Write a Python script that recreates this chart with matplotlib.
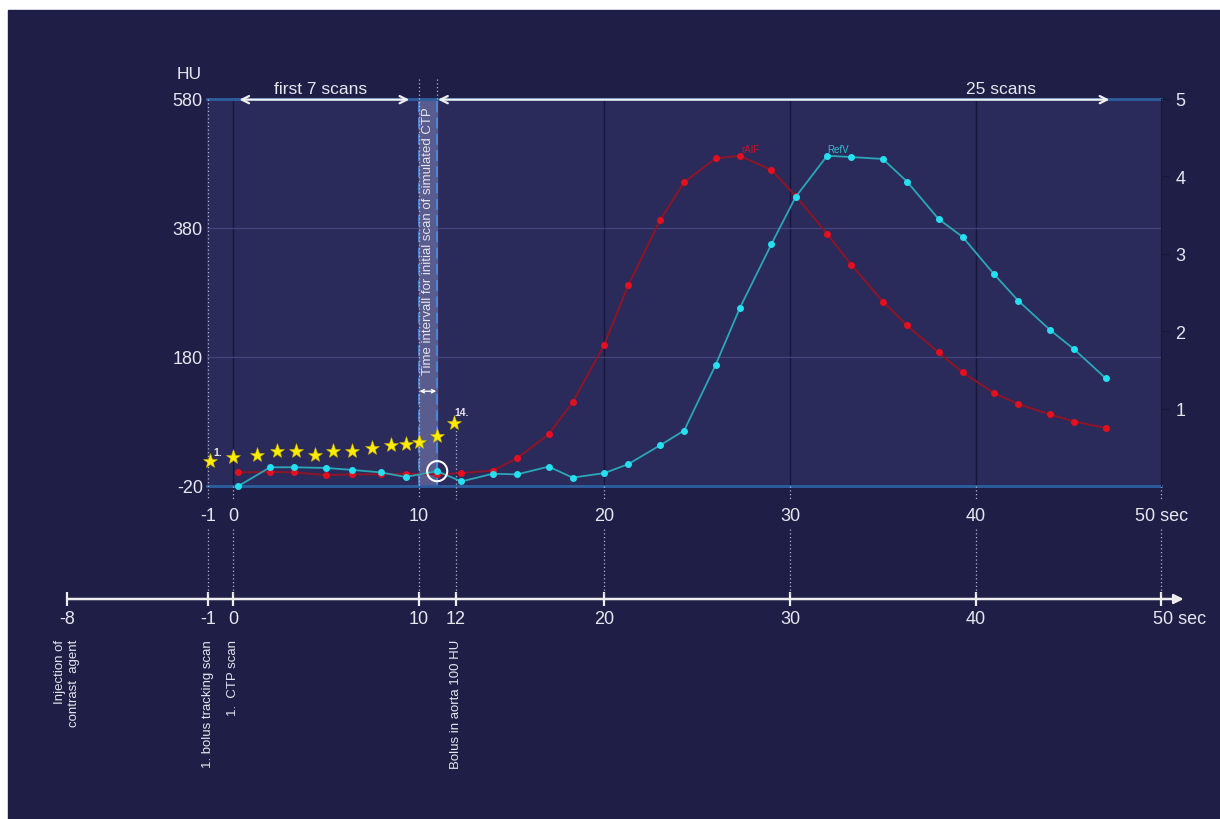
import numpy as np
import matplotlib
matplotlib.use('Agg')
import matplotlib.pyplot as plt
from matplotlib.patches import Rectangle

plt.rcParams['font.family'] = ['Liberation Sans', 'DejaVu Sans']
plt.rcParams['axes.unicode_minus'] = False

# CTP scan times (sec) and curve values (HU)
scan_t = [0.3, 2.0, 3.3, 5.0, 6.4, 8.0, 9.3, 11.0, 12.3, 14.0, 15.3, 17.0, 18.3, 20.0, 21.3,
          23.0, 24.3, 26.0, 27.3, 29.0, 30.3, 32.0, 33.3, 35.0, 36.3, 38.0, 39.3, 41.0, 42.3,
          44.0, 45.3, 47.0]
raif_hu = [1, 2, 1, -3, -2, -2, -1, -2, 0, 4, 23, 60, 110, 199, 292, 392, 451, 488, 492, 470,
           430, 371, 323, 266, 229, 187, 156, 124, 107, 91, 80, 70]
refv_hu = [-20, 9, 9, 8, 5, 1, -6, 3, -13, -1, -2, 10, -7, 0, 14, 43, 66, 168, 256, 355, 428,
           492, 490, 487, 452, 394, 366, 308, 267, 222, 192, 147]

# bolus tracking scans (stars)
bolus_t = [-0.9, 0.0, 1.3, 2.4, 3.4, 4.4, 5.4, 6.4, 7.5, 8.5, 9.3, 10.0, 11.0, 11.9]
bolus_hu = [19, 25, 28, 34, 34, 28, 34, 34, 39, 44, 45, 48, 57, 78]

hu_ticks = [580, 380, 180, -20]
right_ticks = [1, 2, 3, 4, 5]
top_ticks = [-1, 0, 10, 20, 30, 40, 50]
top_labels = ['-1', '0', '10', '20', '30', '40', '50 sec']
time_ticks = [-8, -1, 0, 10, 12, 20, 30, 40, 50]
time_labels = ['-8', '-1', '0', '10', '12', '20', '30', '40']
event_t = [-8, -1, 0, 12]
event_text = ['Injection of\ncontrast  agent', '1. bolus tracking scan',
              '1.  CTP scan', 'Bolus in aorta 100 HU']
ctp_window = (10, 11)

# schematic time axis: the part before 0 is stretched a bit
T_KNOTS = [-100, -8, -1, 0, 100]
U_KNOTS = [-100.93, -8.93, -1.34, 0, 100]


def fwd(t):
    return np.interp(t, T_KNOTS, U_KNOTS)


def inv(u):
    return np.interp(u, U_KNOTS, T_KNOTS)


NAVY = '#1f1e46'
PLOT_BG = '#2a2a5b'
TXT = '#e6e6ee'
RED_LINE, RED_PT = '#8e1426', '#e5101f'
CYAN_LINE, CYAN_PT = '#2aa7b8', '#25e0f0'
STAR = '#ffec00'
BLUE_SPINE = '#2d5fa0'
DARK = '#17173a'
DOT = '#b4b4c6'

fig = plt.figure(figsize=(12.2, 8.2), dpi=100)
fig.patch.set_facecolor('white')
fig.add_artist(Rectangle((8 / 1220, 0), 1, 809 / 820, transform=fig.transFigure,
                         color=NAVY, zorder=-10))

ax = fig.add_axes([207 / 1220, 333 / 820, 954.4 / 1220, 387 / 820])
ax.set_xscale('function', functions=(fwd, inv))
ax.set_xlim(-1.05, 50)
ax.set_ylim(-20, 580)
ax.set_facecolor(PLOT_BG)

# grid
for t in [0, 20, 30, 40]:
    ax.axvline(t, color=DARK, lw=1, zorder=1)
for h in [380, 180]:
    ax.axhline(h, color='#45457c', lw=0.9, zorder=1)

# CTP window band
ax.axvspan(*ctp_window, color='#585c8e', zorder=1.5)
for t in ctp_window:
    ax.axvline(t, color='#4a8ade', lw=1.3, ls=(0, (6, 3)), zorder=2)
ax.text(np.mean(ctp_window), 361, 'Time intervall for initial scan of simulated CTP',
        rotation=90, ha='center', va='center', fontsize=9.5, color=TXT, zorder=6)
ax.annotate('', xy=(10.95, 127), xytext=(10.05, 127),
            arrowprops=dict(arrowstyle='<->', color='white', lw=1, mutation_scale=6,
                            shrinkA=0, shrinkB=0))

# dotted guide lines
xt = ax.get_xaxis_transform()
dot_kw = dict(color=DOT, lw=0.9, ls=(0, (1, 2)), clip_on=False, zorder=3)
ax.plot([-1, -1], [1.0, -0.034], transform=xt, **dot_kw)
ax.plot([10, 10], [1.052, -0.034], transform=xt, **dot_kw)
ax.plot([11, 11], [1.052, 1.0], transform=xt, **dot_kw)
ax.plot([12, 12], [(bolus_hu[-1] + 20) / 600, -0.034], transform=xt, **dot_kw)
for t in [0, 20, 30, 40, 50]:
    ax.plot([t, t], [0, -0.034], transform=xt, **dot_kw)

# curves
ax.plot(scan_t, raif_hu, color=RED_LINE, lw=1.4, marker='o', ms=4,
        mfc=RED_PT, mec=RED_PT, zorder=4, clip_on=False)
ax.plot(scan_t, refv_hu, color=CYAN_LINE, lw=1.3, marker='o', ms=4,
        mfc=CYAN_PT, mec=CYAN_PT, zorder=4, clip_on=False)
ax.text(27.85, 502, 'rAIF', color='#c8142a', fontsize=7, ha='center', va='center')
ax.text(32.6, 502, 'RefV', color='#35bccc', fontsize=7, ha='center', va='center')
ax.scatter([scan_t[7]], [refv_hu[7]], s=210, facecolors='none', edgecolors='white',
           lw=1.5, zorder=7)

# bolus tracking stars
ax.plot(bolus_t, bolus_hu, ls='none', marker='*', ms=11, color=STAR,
        mec='#c8b400', mew=0.4, zorder=6, clip_on=False)
ax.annotate('1.', (bolus_t[0], bolus_hu[0]), xytext=(2, 3), textcoords='offset points',
            ha='left', va='bottom', fontsize=7.5, fontweight='bold', color=TXT)
ax.annotate('14.', (bolus_t[-1], bolus_hu[-1]), xytext=(0, 4), textcoords='offset points',
            ha='left', va='bottom', fontsize=7.5, fontweight='bold', color=TXT)

# scan ranges on top
arr_kw = dict(arrowstyle='<->', color='#eeeeee', lw=1.6, mutation_scale=13,
              shrinkA=0, shrinkB=0)
ax.annotate('', xy=(9.5, 579), xytext=(0.35, 579), arrowprops=arr_kw, annotation_clip=False)
ax.annotate('', xy=(47.2, 579), xytext=(11.05, 579), arrowprops=arr_kw, annotation_clip=False)
ax.text(4.7, 597, 'first 7 scans', ha='center', va='center', fontsize=12.5, color=TXT)
ax.text(41.35, 597, '25 scans', ha='center', va='center', fontsize=12.5, color=TXT)
ax.text(-0.019, 1.065, 'HU', transform=ax.transAxes, ha='center', va='center',
        fontsize=12.5, color=TXT)

# axes styling
ax.set_xticks(top_ticks, top_labels)
ax.set_yticks(hu_ticks)
ax.tick_params(axis='x', length=0, pad=15, labelsize=13, labelcolor=TXT)
ax.tick_params(axis='y', length=0, pad=3, labelsize=13, labelcolor=TXT)
ax.minorticks_off()
for s in ['top', 'bottom']:
    ax.spines[s].set_color(BLUE_SPINE)
    ax.spines[s].set_linewidth(2)
ax.spines['left'].set_visible(False)
ax.spines['right'].set_visible(False)

axr = ax.twinx()
axr.set_ylim(0, 5)
axr.set_yticks(right_ticks)
axr.tick_params(axis='y', length=6, width=1, color=DARK, pad=4,
                labelsize=13, labelcolor=TXT)
for s in ['top', 'bottom', 'left']:
    axr.spines[s].set_visible(False)
axr.spines['right'].set_color(DARK)

# lower schematic time line
ax2 = fig.add_axes([207 / 1220, 20 / 820, 954.4 / 1220, 240 / 820])
ax2.set_xscale('function', functions=(fwd, inv))
ax2.set_xlim(-1.05, 50)
ax2.set_ylim(800, 560)
ax2.axis('off')

ax2.annotate('', xy=(51.2, 600), xytext=(-8, 600),
             arrowprops=dict(arrowstyle='-|>', color='#eeeeee', lw=1.8, mutation_scale=14,
                             shrinkA=0, shrinkB=0), annotation_clip=False)
ax2.plot(time_ticks, [600] * len(time_ticks), ls='none', marker='|', ms=10, mew=1.6,
         color='#eeeeee', clip_on=False)
for t in time_ticks[1:]:
    ax2.plot([t, t], [530, 595], **dot_kw)
for t, lab in zip(time_ticks, time_labels):
    ax2.text(t, 611, lab, ha='center', va='top', fontsize=13, color=TXT, clip_on=False)
ax2.annotate('50 sec', (50, 611), xytext=(-6, 0), textcoords='offset points',
             ha='left', va='top', fontsize=13, color=TXT, annotation_clip=False)
for t, lab in zip(event_t, event_text):
    ax2.text(t, 640, lab, rotation=90, ha='center', va='top', fontsize=9.5,
             color=TXT, multialignment='right', clip_on=False)

fig.savefig('out.png', dpi=100, facecolor=fig.get_facecolor())
